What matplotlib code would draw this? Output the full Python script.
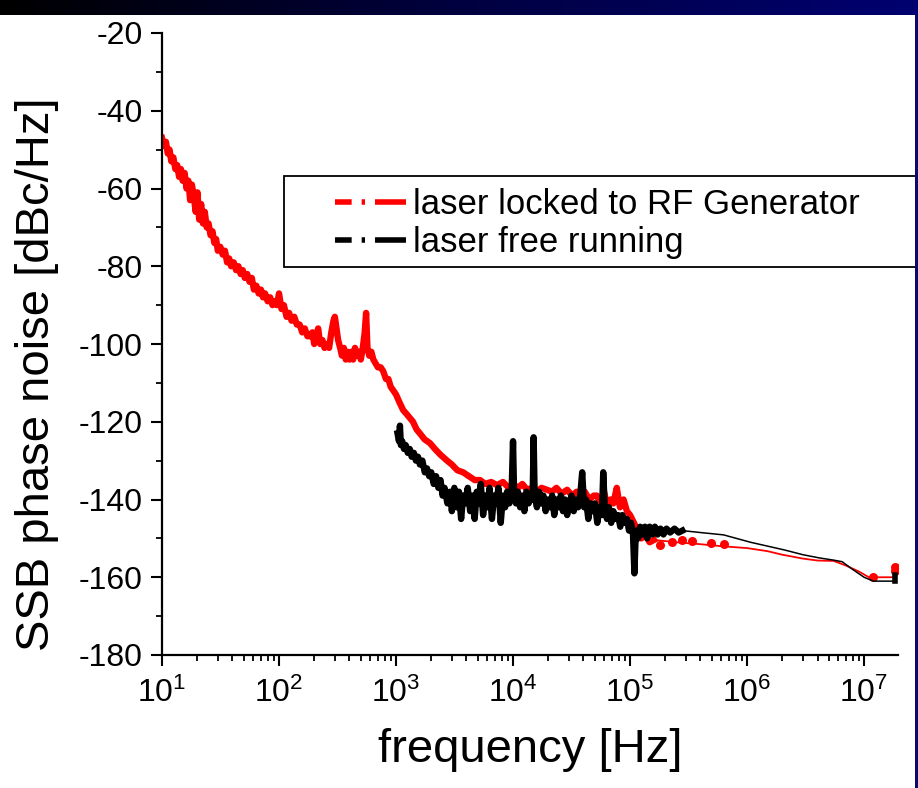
import numpy as np
import matplotlib.pyplot as plt
from matplotlib.colors import LinearSegmentedColormap
from matplotlib.lines import Line2D
from matplotlib.patches import Rectangle

plt.rcParams['font.family'] = ['Liberation Sans', 'DejaVu Sans']
plt.rcParams['mathtext.fontset'] = 'custom'
plt.rcParams['mathtext.rm'] = 'Liberation Sans'
plt.rcParams['mathtext.it'] = 'Liberation Sans'
plt.rcParams['axes.unicode_minus'] = False

# laser locked to RF generator (thick, noisy part)
red_f = [10, 10.4, 10.8, 11.2, 11.6, 12.0, 12.5, 13.0, 13.5, 14.0, 14.5, 15.0, 15.6, 16.2,
         16.8, 17.4, 18.0, 18.7, 19.4, 20.1, 20.8, 21.6, 22.4, 23.2, 24.1, 25.0, 26, 27, 28,
         29, 30, 31.5, 33, 34.5, 36, 37.5, 39, 41, 43, 45, 47, 49, 51, 53.5, 56, 58.5, 61,
         64, 67, 70, 73, 76, 80, 84, 88, 92, 96, 100,
         105, 110, 116, 122, 128, 135, 142, 150, 158, 166, 175, 184, 193, 200, 208, 216,
         225, 235, 245, 257, 268, 280, 292, 300, 310, 320, 333, 345, 358, 372, 386, 400,
         415, 430, 446, 462, 480, 500, 520, 540, 555, 570, 590, 615, 640, 670, 700, 740,
         777, 820, 860, 900, 950, 1000, 1070, 1150, 1230, 1310, 1396, 1500, 1600, 1750,
         1950, 2150, 2400, 2730, 3000, 3350, 3740, 4200, 4700, 5220, 5800, 6500, 7300,
         8200, 9200, 10000, 11000, 12000, 13200, 14500, 16000, 17500, 19500, 21500, 23500,
         26000, 29000, 32000, 35000, 38000, 41000, 45000, 49000, 52000, 56000, 60000,
         64000, 68000, 72000, 77000, 82000, 88000, 94000, 100000, 108000, 116000, 125000,
         135000, 147000, 160000]
red_db = [-47, -49, -48, -51, -50, -53, -52, -55, -54, -57, -55, -58, -56, -60,
          -58, -63, -59, -62, -66, -61, -68, -64, -69, -66, -70, -69, -72, -71, -74,
          -73, -76, -75, -77, -76, -79, -78, -80, -79, -81, -80, -82, -81, -83, -82, -84, -83, -86,
          -85, -87, -86, -88, -87, -89, -88, -90, -89, -90, -87,
          -91, -90, -93, -92, -94, -93, -95, -95, -97, -96, -98, -98, -97, -100, -98, -96,
          -100, -99, -101, -100, -101, -97, -94, -93, -96, -99, -101, -103, -101, -104, -102, -104,
          -102, -104, -101, -103, -102, -104, -101, -97, -92, -101, -103, -102, -104, -105, -106, -106,
          -107, -109, -109, -111, -112, -113, -115, -117, -118, -119, -120, -122, -123, -124.5,
          -125.5, -127, -128.5, -130, -131, -132.5, -133, -134, -135, -135, -136, -135.5, -136.3,
          -135.5, -137, -136, -137, -136, -137.5, -137, -138, -137, -137.5, -138, -137,
          -138.5, -137.5, -139, -138, -139, -138, -140, -139, -139, -141, -138,
          -142, -140, -141, -137, -142, -140, -143, -144, -146, -148, -150,
          -149, -151, -150.4]

# red, thin continuation
red_f_thin = [160000, 250000, 400000, 600000, 1.0e6, 1.5e6, 2.0e6, 3.0e6, 4.0e6,
              5.5e6, 7.0e6, 9.0e6, 1.1e7, 1.4e7, 1.8e7, 1.85e7]
red_db_thin = [-150.4, -151, -151.5, -152, -152.5, -153.3, -154.2, -155.2, -155.7,
               -155.8, -157, -158.5, -160, -160, -160, -158]

# red dots
red_dot_f = [180000, 230000, 280000, 340000, 490000, 630000, 1.2e7, 1.83e7, 1.83e7]
red_dot_db = [-151.7, -151, -150.4, -150.7, -151.2, -151.4, -160, -157.4, -158.5]

# laser free running (thick, noisy part)
blk_f = [1030, 1060, 1080, 1100, 1130, 1170, 1210, 1260, 1310, 1360, 1420, 1480, 1540, 1600,
         1680, 1760, 1840, 1920, 2000, 2100, 2200, 2300, 2400, 2500, 2600, 2750, 2900, 3000,
         3150, 3300, 3450, 3600, 3750, 3900, 4100, 4300, 4500, 4700, 4900, 5100, 5300, 5550,
         5800, 6050, 6300, 6600, 6900, 7200, 7500, 7850, 8200, 8550, 8900, 9300, 9700, 10000,
         10200, 10600, 11000, 11500, 12000, 12500, 13000, 13600, 14200, 14700, 15000, 15300,
         16000, 16700, 17400, 18200, 19000, 19800, 20700, 21600, 22500, 23500, 24500, 25600,
         26700, 27800, 29000, 30300, 31600, 33000, 34500, 36000, 37500, 39000, 40500, 42000,
         44000, 46000, 48000, 50000, 52500, 55000, 57500, 59000, 61000, 63500, 66000, 69000,
         72000, 75500, 79000, 82500, 86000, 90000, 94000, 98000, 102000, 106000, 109000,
         112000, 117000, 122000, 128000, 134000, 140000, 147000, 155000, 163000, 172000,
         182000, 193000, 205000, 220000, 240000, 260000, 280000]
blk_db = [-123, -125, -121, -126, -125, -127, -126, -128, -127, -129, -128, -130, -129, -131,
          -130, -133, -132, -134, -133, -136, -134, -137, -135, -139, -137, -141, -138, -143,
          -137, -142, -138, -145, -139, -141, -137, -143, -139, -145, -138, -141, -136, -144,
          -139, -142, -137, -145, -139, -141, -137, -146, -139, -142, -138, -141, -139, -125,
          -138, -141, -138, -142, -139, -143, -138, -141, -139, -140, -124, -139,
          -142, -138, -141, -139, -143, -140, -142, -139, -144, -140, -142, -139,
          -143, -140, -144, -141, -139, -143, -140, -142, -139, -133, -142, -140,
          -145, -141, -143, -141, -146, -142, -144, -133, -143, -145, -142, -146,
          -143, -145, -144, -147, -144, -146, -145, -148, -146, -149, -159,
          -148, -150, -147, -149, -147, -150, -147, -149, -147, -149,
          -147.5, -149, -147.5, -148.5, -147.5, -148.5, -148]

# black, thin continuation
blk_f_thin = [280000, 400000, 630000, 1.07e6, 1.5e6, 2.1e6, 3.0e6, 4.1e6, 5.5e6,
              6.5e6, 8.0e6, 1.0e7, 1.2e7, 1.5e7, 1.83e7]
blk_db_thin = [-148, -148.5, -149.1, -151, -152, -153, -154.2, -155, -155.6,
               -156, -158, -160, -161, -161, -161]

legend_labels = ['laser locked to RF Generator', 'laser free running']

fig = plt.figure(figsize=(9.18, 7.88), dpi=100)

ax = fig.add_axes([162 / 918, 133 / 788, 736 / 918, 622 / 788])

ax.plot(red_f, red_db, color='#ff0000', lw=4.6, solid_joinstyle='round')
ax.plot(red_f_thin, red_db_thin, color='#ff0000', lw=1.3)
ax.plot(red_dot_f, red_dot_db, 'o', color='#ff0000', ms=6.5, mec='none')
ax.plot(blk_f, blk_db, color='black', lw=4.6, solid_joinstyle='round')
ax.plot(blk_f_thin, blk_db_thin, color='black', lw=1.1)
ax.plot([1.83e7, 1.83e7], [-161, -159.5], color='black', lw=4)

ax.set_xscale('log')
ax.set_xlim(10, 10 ** 7.29)
ax.set_ylim(-180, -20)
ax.set_xticks([1e1, 1e2, 1e3, 1e4, 1e5, 1e6, 1e7])
ax.set_xticklabels([r'$10^{%d}$' % k for k in range(1, 8)])
ax.set_yticks(np.arange(-180, -19, 20))
ax.set_yticks(np.arange(-170, -20, 20), minor=True)

for side in ['top', 'right']:
    ax.spines[side].set_visible(False)
for side in ['left', 'bottom']:
    ax.spines[side].set_linewidth(1.6)
ax.tick_params(which='major', direction='out', length=8, width=1.5, labelsize=23, pad=6)
ax.tick_params(which='minor', direction='out', length=4.5, width=1.3)
ax.tick_params(axis='x', which='major', pad=8)

ax.set_xlabel('frequency [Hz]', fontsize=34)
ax.xaxis.set_label_coords(0.5, -0.118)
ax.set_ylabel('SSB phase noise [dBc/Hz]', fontsize=34)
ax.yaxis.set_label_coords(-0.14, 0.452)

# legend frame drawn as a box that runs past the axes
ax.add_patch(Rectangle((122 / 736, 388 / 622), 752 / 736, 91 / 622, transform=ax.transAxes,
                       facecolor='white', edgecolor='black', lw=1.3, clip_on=False, zorder=5))
dashdot = (4, (7, 1.8, 0.6, 1.8))
handles = [Line2D([], [], color='#ff0000', lw=4, linestyle=dashdot),
           Line2D([], [], color='black', lw=4, linestyle=dashdot)]
leg = ax.legend(handles, legend_labels, loc='center', bbox_to_anchor=(0.5917, 0.694),
                fontsize=25, frameon=False, handlelength=2.05, handletextpad=0.2,
                labelspacing=0.15, borderpad=0, borderaxespad=0)
leg.set_zorder(6)

# dark title band and right edge strip, on top of everything
band = fig.add_axes([0, 1 - 15 / 788, 1, 15 / 788])
cmap = LinearSegmentedColormap.from_list('band', ['#000000', '#000040', '#000070'])
band.imshow(np.linspace(0, 1, 256)[None, :], aspect='auto', cmap=cmap)
band.axis('off')
strip = fig.add_axes([1 - 3 / 918, 0, 3 / 918, 1 - 15 / 788])
strip.set_facecolor('#0a0a6a')
strip.set_xticks([])
strip.set_yticks([])
for s in strip.spines.values():
    s.set_visible(False)

fig.savefig('out.png', dpi=100)
